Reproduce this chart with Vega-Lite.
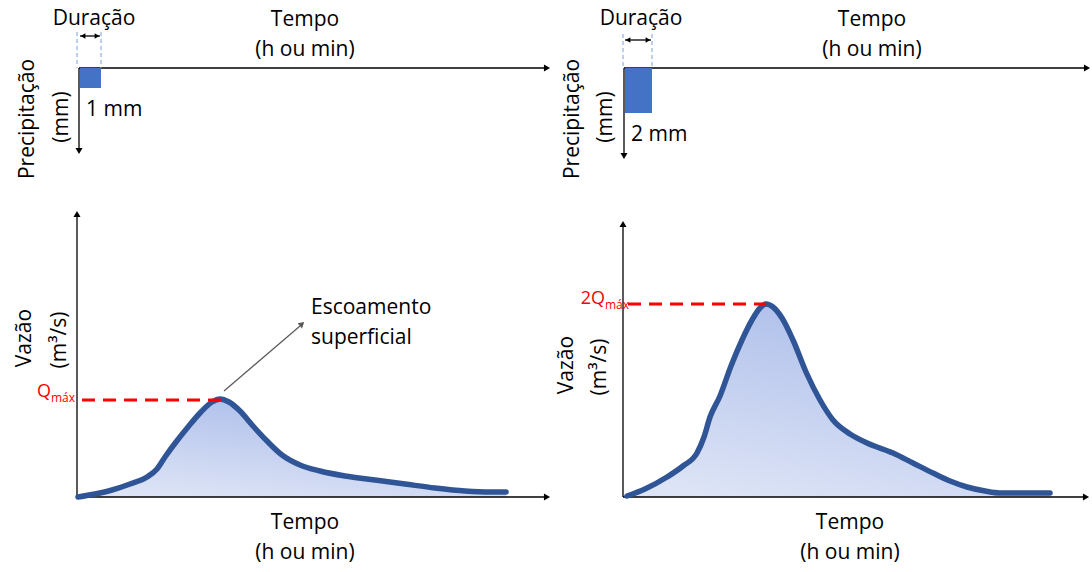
{
  "$schema": "https://vega.github.io/schema/vega-lite/v6.json",
  "width": 1092,
  "height": 572,
  "padding": 0,
  "autosize": {"type": "none"},
  "background": "white",
  "config": {"view": {"stroke": null}},
  "datasets": {
    "curves": [
      {"panel": "A", "x": 78, "y": 497}, {"panel": "A", "x": 95, "y": 494}, {"panel": "A", "x": 112, "y": 490}, {"panel": "A", "x": 130, "y": 484},
      {"panel": "A", "x": 147, "y": 477}, {"panel": "A", "x": 157, "y": 469}, {"panel": "A", "x": 165, "y": 457}, {"panel": "A", "x": 176, "y": 442},
      {"panel": "A", "x": 188, "y": 427}, {"panel": "A", "x": 200, "y": 413}, {"panel": "A", "x": 212, "y": 402}, {"panel": "A", "x": 220, "y": 399},
      {"panel": "A", "x": 229, "y": 402}, {"panel": "A", "x": 240, "y": 411}, {"panel": "A", "x": 253, "y": 426}, {"panel": "A", "x": 267, "y": 441},
      {"panel": "A", "x": 282, "y": 455}, {"panel": "A", "x": 300, "y": 465}, {"panel": "A", "x": 320, "y": 471}, {"panel": "A", "x": 345, "y": 476},
      {"panel": "A", "x": 375, "y": 480}, {"panel": "A", "x": 405, "y": 484}, {"panel": "A", "x": 435, "y": 488}, {"panel": "A", "x": 465, "y": 491},
      {"panel": "A", "x": 490, "y": 492}, {"panel": "A", "x": 506, "y": 492},
      {"panel": "B", "x": 627, "y": 496}, {"panel": "B", "x": 645, "y": 489}, {"panel": "B", "x": 667, "y": 477}, {"panel": "B", "x": 683, "y": 466},
      {"panel": "B", "x": 697, "y": 453}, {"panel": "B", "x": 704, "y": 437}, {"panel": "B", "x": 710, "y": 417}, {"panel": "B", "x": 720, "y": 396},
      {"panel": "B", "x": 731, "y": 366}, {"panel": "B", "x": 742, "y": 340}, {"panel": "B", "x": 752, "y": 320}, {"panel": "B", "x": 760, "y": 308},
      {"panel": "B", "x": 766, "y": 304}, {"panel": "B", "x": 773, "y": 307}, {"panel": "B", "x": 782, "y": 318}, {"panel": "B", "x": 793, "y": 340},
      {"panel": "B", "x": 806, "y": 372}, {"panel": "B", "x": 820, "y": 400}, {"panel": "B", "x": 833, "y": 420}, {"panel": "B", "x": 850, "y": 434},
      {"panel": "B", "x": 867, "y": 443}, {"panel": "B", "x": 893, "y": 453}, {"panel": "B", "x": 913, "y": 463}, {"panel": "B", "x": 933, "y": 473},
      {"panel": "B", "x": 950, "y": 481}, {"panel": "B", "x": 967, "y": 487}, {"panel": "B", "x": 985, "y": 491}, {"panel": "B", "x": 1000, "y": 493},
      {"panel": "B", "x": 1025, "y": 493}, {"panel": "B", "x": 1050, "y": 493}
    ],
    "rules": [
      {"kind": "axis", "x": 79, "y": 68, "x2": 546, "y2": 68},
      {"kind": "axis", "x": 79, "y": 68, "x2": 79, "y2": 150},
      {"kind": "axis", "x": 77, "y": 497, "x2": 77, "y2": 216},
      {"kind": "axis", "x": 77, "y": 497, "x2": 546, "y2": 497},
      {"kind": "axis", "x": 624, "y": 68, "x2": 1086, "y2": 68},
      {"kind": "axis", "x": 624, "y": 68, "x2": 624, "y2": 155},
      {"kind": "axis", "x": 623, "y": 497, "x2": 623, "y2": 226},
      {"kind": "axis", "x": 623, "y": 497, "x2": 1085, "y2": 497},
      {"kind": "dbl", "x": 80, "y": 36, "x2": 100, "y2": 36},
      {"kind": "dbl", "x": 625, "y": 40, "x2": 651, "y2": 40},
      {"kind": "dur", "x": 77, "y": 32, "x2": 77, "y2": 68},
      {"kind": "dur", "x": 101, "y": 32, "x2": 101, "y2": 68},
      {"kind": "dur", "x": 623, "y": 34, "x2": 623, "y2": 68},
      {"kind": "dur", "x": 652, "y": 34, "x2": 652, "y2": 68},
      {"kind": "qmax", "x": 82, "y": 400, "x2": 222, "y2": 400},
      {"kind": "qmax", "x": 628, "y": 304, "x2": 766, "y2": 304},
      {"kind": "annot", "x": 224, "y": 391, "x2": 300, "y2": 326}
    ],
    "bars": [
      {"x": 80, "x2": 101, "y": 68, "y2": 88},
      {"x": 625, "x2": 652, "y": 68, "y2": 113}
    ],
    "heads": [
      {"dir": "right", "x": 547, "y": 68}, {"dir": "right", "x": 547, "y": 497},
      {"dir": "right", "x": 1087, "y": 68}, {"dir": "right", "x": 1086, "y": 497},
      {"dir": "down", "x": 79, "y": 151}, {"dir": "down", "x": 624, "y": 156},
      {"dir": "up", "x": 77, "y": 214}, {"dir": "up", "x": 623, "y": 224},
      {"dir": "sright", "x": 97, "y": 36}, {"dir": "sleft", "x": 83, "y": 36},
      {"dir": "sright", "x": 648, "y": 40}, {"dir": "sleft", "x": 628, "y": 40},
      {"dir": "annot", "x": 302, "y": 324}
    ],
    "labels": [
      {"style": "center", "x": 94, "y": 19, "text": "Duração"},
      {"style": "center", "x": 305, "y": 20, "text": "Tempo"},
      {"style": "center", "x": 305, "y": 50, "text": "(h ou min)"},
      {"style": "left", "x": 86, "y": 110, "text": "1 mm"},
      {"style": "center", "x": 305, "y": 523, "text": "Tempo"},
      {"style": "center", "x": 305, "y": 553, "text": "(h ou min)"},
      {"style": "left", "x": 311, "y": 308, "text": "Escoamento"},
      {"style": "left", "x": 311, "y": 338, "text": "superficial"},
      {"style": "center", "x": 641, "y": 19, "text": "Duração"},
      {"style": "center", "x": 872, "y": 20, "text": "Tempo"},
      {"style": "center", "x": 872, "y": 50, "text": "(h ou min)"},
      {"style": "left", "x": 631, "y": 135, "text": "2 mm"},
      {"style": "center", "x": 850, "y": 523, "text": "Tempo"},
      {"style": "center", "x": 850, "y": 553, "text": "(h ou min)"},
      {"style": "rot", "x": 28, "y": 119, "text": "Precipitação"},
      {"style": "rot", "x": 62, "y": 117, "text": "(mm)"},
      {"style": "rot", "x": 25, "y": 338, "text": "Vazão"},
      {"style": "rot", "x": 60, "y": 340, "text": "(m³/s)"},
      {"style": "rot", "x": 573, "y": 119, "text": "Precipitação"},
      {"style": "rot", "x": 606, "y": 117, "text": "(mm)"},
      {"style": "rot", "x": 567, "y": 365, "text": "Vazão"},
      {"style": "rot", "x": 600, "y": 367, "text": "(m³/s)"},
      {"style": "red", "x": 51, "y": 392, "text": "Q"},
      {"style": "redsub", "x": 51, "y": 398, "text": "máx"},
      {"style": "red", "x": 605, "y": 299, "text": "2Q"},
      {"style": "redsub", "x": 605, "y": 305, "text": "máx"}
    ]
  },
  "encoding": {
    "x": {"field": "x", "type": "quantitative", "scale": {"domain": [0, 1092], "nice": false, "zero": false}, "axis": null},
    "y": {"field": "y", "type": "quantitative", "scale": {"domain": [0, 572], "nice": false, "zero": false, "reverse": true}, "axis": null}
  },
  "layer": [
    {
      "data": {"name": "curves"},
      "mark": {"type": "area", "interpolate": "monotone", "color": {"gradient": "linear", "x1": 0.2, "y1": 1, "x2": 0.6, "y2": 0, "stops": [{"offset": 0, "color": "#dde4f6"}, {"offset": 1, "color": "#adbeea"}]}},
      "encoding": {"y": {"field": "y", "type": "quantitative", "stack": null}, "y2": {"datum": 497}, "detail": {"field": "panel"}}
    },
    {
      "data": {"name": "rules"},
      "transform": [{"filter": "datum.kind === 'axis' || datum.kind === 'dbl'"}],
      "mark": {"type": "rule", "color": "#000000", "strokeWidth": 1.3},
      "encoding": {"x2": {"field": "x2"}, "y2": {"field": "y2"}}
    },
    {
      "data": {"name": "rules"},
      "transform": [{"filter": "datum.kind === 'dur'"}],
      "mark": {"type": "rule", "color": "#7f9fdc", "strokeWidth": 1, "strokeDash": [4, 3]},
      "encoding": {"x2": {"field": "x2"}, "y2": {"field": "y2"}}
    },
    {
      "data": {"name": "rules"},
      "transform": [{"filter": "datum.kind === 'annot'"}],
      "mark": {"type": "rule", "color": "#595959", "strokeWidth": 1.2},
      "encoding": {"x2": {"field": "x2"}, "y2": {"field": "y2"}}
    },
    {
      "data": {"name": "bars"},
      "mark": {"type": "rect", "color": "#4472c4"},
      "encoding": {"x2": {"field": "x2"}, "y2": {"field": "y2"}}
    },
    {
      "data": {"name": "curves"},
      "mark": {"type": "line", "interpolate": "monotone", "color": "#2f5597", "strokeWidth": 5.5, "strokeCap": "round"},
      "encoding": {"detail": {"field": "panel"}}
    },
    {
      "data": {"name": "rules"},
      "transform": [{"filter": "datum.kind === 'qmax'"}],
      "mark": {"type": "rule", "color": "#ff0000", "strokeWidth": 3, "strokeDash": [13, 8]},
      "encoding": {"x2": {"field": "x2"}, "y2": {"field": "y2"}}
    },
    {
      "data": {"name": "heads"},
      "transform": [{"filter": "datum.dir === 'right'"}],
      "mark": {"type": "point", "shape": "triangle-right", "filled": true, "color": "#000000", "opacity": 1, "size": 50}
    },
    {
      "data": {"name": "heads"},
      "transform": [{"filter": "datum.dir === 'down'"}],
      "mark": {"type": "point", "shape": "triangle-down", "filled": true, "color": "#000000", "opacity": 1, "size": 50}
    },
    {
      "data": {"name": "heads"},
      "transform": [{"filter": "datum.dir === 'up'"}],
      "mark": {"type": "point", "shape": "triangle-up", "filled": true, "color": "#000000", "opacity": 1, "size": 50}
    },
    {
      "data": {"name": "heads"},
      "transform": [{"filter": "datum.dir === 'sright'"}],
      "mark": {"type": "point", "shape": "triangle-right", "filled": true, "color": "#000000", "opacity": 1, "size": 30}
    },
    {
      "data": {"name": "heads"},
      "transform": [{"filter": "datum.dir === 'sleft'"}],
      "mark": {"type": "point", "shape": "triangle-left", "filled": true, "color": "#000000", "opacity": 1, "size": 30}
    },
    {
      "data": {"name": "heads"},
      "transform": [{"filter": "datum.dir === 'annot'"}],
      "mark": {"type": "point", "shape": "triangle-right", "filled": true, "color": "#595959", "opacity": 1, "size": 45, "angle": 319}
    },
    {
      "data": {"name": "labels"},
      "transform": [{"filter": "datum.style === 'center'"}],
      "mark": {"type": "text", "font": "Open Sans", "fontSize": 21, "align": "center", "baseline": "middle", "color": "#000000"},
      "encoding": {"text": {"field": "text"}}
    },
    {
      "data": {"name": "labels"},
      "transform": [{"filter": "datum.style === 'left'"}],
      "mark": {"type": "text", "font": "Open Sans", "fontSize": 21, "align": "left", "baseline": "middle", "color": "#000000"},
      "encoding": {"text": {"field": "text"}}
    },
    {
      "data": {"name": "labels"},
      "transform": [{"filter": "datum.style === 'rot'"}],
      "mark": {"type": "text", "font": "Open Sans", "fontSize": 21, "align": "center", "baseline": "middle", "angle": 270, "color": "#000000"},
      "encoding": {"text": {"field": "text"}}
    },
    {
      "data": {"name": "labels"},
      "transform": [{"filter": "datum.style === 'red'"}],
      "mark": {"type": "text", "font": "Open Sans", "fontSize": 18, "align": "right", "baseline": "middle", "color": "#ff0000"},
      "encoding": {"text": {"field": "text"}}
    },
    {
      "data": {"name": "labels"},
      "transform": [{"filter": "datum.style === 'redsub'"}],
      "mark": {"type": "text", "font": "Open Sans", "fontSize": 12, "align": "left", "baseline": "middle", "color": "#ff0000"},
      "encoding": {"text": {"field": "text"}}
    }
  ]
}
